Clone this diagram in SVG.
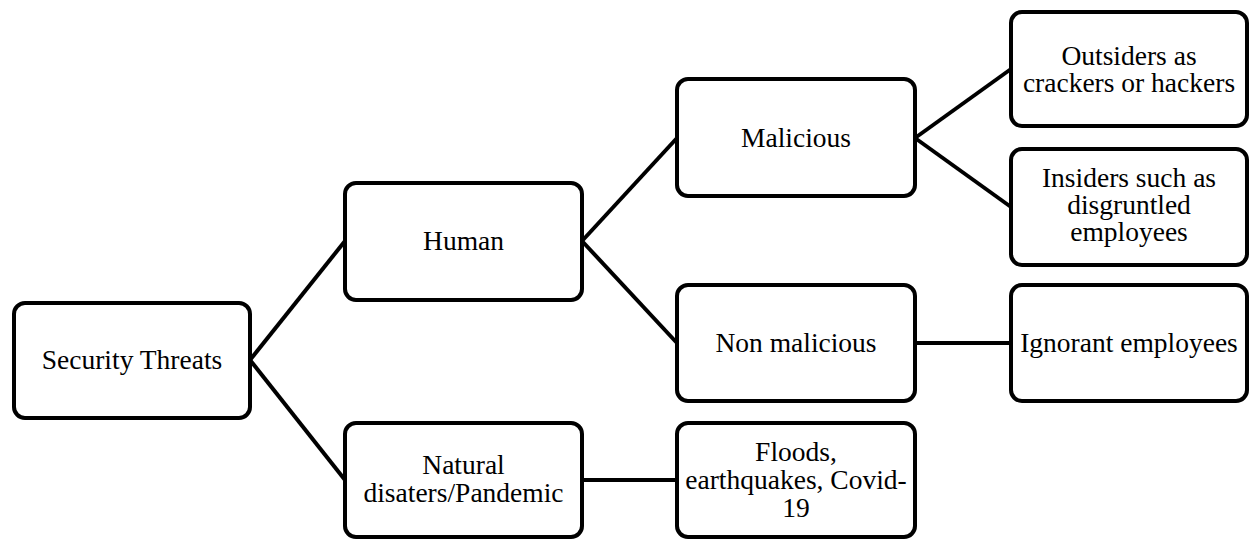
<svg xmlns="http://www.w3.org/2000/svg" width="1251" height="539" viewBox="0 0 1251 539">
<style>
.box{fill:#fff;stroke:#000;stroke-width:4}
.con{stroke:#000;stroke-width:4;fill:none}
text{font-family:"Liberation Serif","Times New Roman",serif;font-size:27.5px;fill:#000;text-anchor:middle}
</style>
<rect width="1251" height="539" fill="#fff"/>
<g id="connectors">
<line class="con" x1="250" y1="360" x2="345" y2="241"/>
<line class="con" x1="250" y1="360" x2="345" y2="480"/>
<line class="con" x1="582" y1="241" x2="677" y2="138"/>
<line class="con" x1="582" y1="241" x2="677" y2="343"/>
<line class="con" x1="915" y1="138" x2="1011" y2="69"/>
<line class="con" x1="915" y1="138" x2="1011" y2="207"/>
<line class="con" x1="915" y1="343" x2="1011" y2="343"/>
<line class="con" x1="582" y1="480" x2="677" y2="480"/>
</g>
<g id="security-threats">
<rect class="box" x="14" y="303" width="236" height="115" rx="11"/>
<text x="132" y="369">Security Threats</text>
</g>
<g id="human">
<rect class="box" x="345" y="183" width="237" height="117" rx="11"/>
<text x="463.5" y="250">Human</text>
</g>
<g id="natural">
<rect class="box" x="345" y="423" width="237" height="114" rx="11"/>
<text x="463.5" y="474">Natural</text>
<text x="463.5" y="502">disaters/Pandemic</text>
</g>
<g id="malicious">
<rect class="box" x="677" y="79" width="238" height="117" rx="11"/>
<text x="796" y="147">Malicious</text>
</g>
<g id="non-malicious">
<rect class="box" x="677" y="285" width="238" height="116" rx="11"/>
<text x="796" y="352">Non malicious</text>
</g>
<g id="floods">
<rect class="box" x="677" y="423" width="238" height="114" rx="11"/>
<text x="796" y="461">Floods,</text>
<text x="796" y="489">earthquakes, Covid-</text>
<text x="796" y="517">19</text>
</g>
<g id="outsiders">
<rect class="box" x="1011" y="12" width="236" height="114" rx="11"/>
<text x="1129" y="65">Outsiders as</text>
<text x="1129" y="92">crackers or hackers</text>
</g>
<g id="insiders">
<rect class="box" x="1011" y="149" width="236" height="116" rx="11"/>
<text x="1129" y="187">Insiders such as</text>
<text x="1129" y="214">disgruntled</text>
<text x="1129" y="241">employees</text>
</g>
<g id="ignorant">
<rect class="box" x="1011" y="285" width="236" height="116" rx="11"/>
<text x="1129" y="352">Ignorant employees</text>
</g>
</svg>
